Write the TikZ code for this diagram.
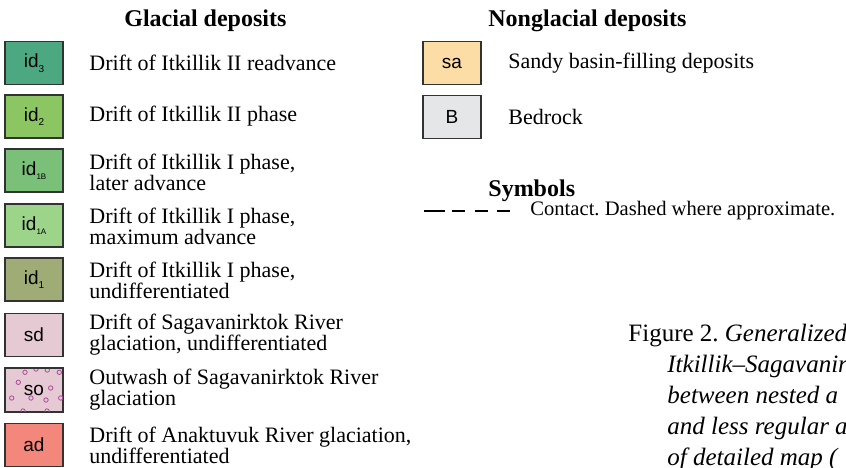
\documentclass[tikz,border=0pt]{standalone}
\usepackage{fontspec}
\setmainfont{Liberation Serif}
\setsansfont{Liberation Sans}
\frenchspacing
\definecolor{idthree}{RGB}{75,168,128}
\definecolor{idtwo}{RGB}{140,198,98}
\definecolor{idoneB}{RGB}{122,192,120}
\definecolor{idoneA}{RGB}{156,212,138}
\definecolor{idone}{RGB}{160,172,118}
\definecolor{sdcol}{RGB}{229,202,211}
\definecolor{adcol}{RGB}{243,135,124}
\definecolor{sacol}{RGB}{253,221,166}
\definecolor{bcol}{RGB}{229,230,232}
\definecolor{circcol}{RGB}{176,72,158}
\definecolor{edge}{RGB}{50,50,50}
\newcommand\sbs[1]{\raisebox{-0.45ex}{\fontsize{5pt}{5pt}\selectfont #1}}
\newcommand\sbss[1]{\raisebox{-0.45ex}{\fontsize{4pt}{4pt}\selectfont #1}}
\begin{document}
\begin{tikzpicture}[x=0.5pt,y=-0.5pt,
  lbox/.style={draw=edge,line width=0.6pt,minimum width=29pt,minimum height=21.5pt,inner sep=0pt,
    font=\sffamily\fontsize{9.5pt}{10pt}\selectfont},
  desc/.style={anchor=west,inner sep=0pt,align=left,font=\fontsize{11pt}{10.5pt}\selectfont},
  head/.style={anchor=base west,inner sep=0pt,font=\bfseries\fontsize{12pt}{13pt}\selectfont},
  capline/.style={anchor=base west,inner sep=0pt,font=\fontsize{12.5pt}{15pt}\selectfont},
  circ/.style={draw=circcol,line width=0.4pt}]
\useasboundingbox (0,0) rectangle (846,467);
\clip (0,0) rectangle (846,467);
% headings
\node[head] (hg) at (124,26) {Glacial deposits};
\node[head] (hn) at (488,26) {Nonglacial deposits};
\node[head] (hs) at (488,196) {Symbols};
% glacial boxes
\node[lbox,fill=idthree] (b1) at (34,63) {id\sbs{3}};
\node[lbox,fill=idtwo] (b2) at (34,116.5) {id\sbs{2}};
\node[lbox,fill=idoneB] (b3) at (34,170.5) {id\sbss{1B}};
\node[lbox,fill=idoneA] (b4) at (34,225.5) {id\sbss{1A}};
\node[lbox,fill=idone] (b5) at (34,279.5) {id\sbs{1}};
\node[lbox,fill=sdcol] (b6) at (34,335) {sd};
\node[lbox,fill=sdcol] (b7) at (34,390) {};
\begin{scope}
\clip (5,368) rectangle (63,412);
\foreach \cx/\cy in {25/372.3,36/369,47.3/370,59.3/372.3,18.3/382.3,50.7/388,11.7/398,31/398,46/400,60.7/398,23/411,47/411}
  \draw[circ] (\cx,\cy) circle (1.1pt);
\end{scope}
\draw[draw=edge,line width=0.6pt] (b7.north west) rectangle (b7.south east);
\node[inner sep=0pt,font=\sffamily\fontsize{9.5pt}{10pt}\selectfont] (so) at (b7) {so};
\node[lbox,fill=adcol] (b8) at (34,445) {ad};
% glacial texts
\node[desc] (t1) at (89,63) {Drift of Itkillik II readvance};
\node[desc] (t2) at (89,116.5) {Drift of Itkillik II phase};
\node[desc] (t3) at (89,172) {Drift of Itkillik I phase,\\later advance};
\node[desc] (t4) at (89,226) {Drift of Itkillik I phase,\\maximum advance};
\node[desc] (t5) at (89,280) {Drift of Itkillik I phase,\\undifferentiated};
\node[desc] (t6) at (89,335) {Drift of Sagavanirktok River\\glaciation, undifferentiated};
\node[desc] (t7) at (89,390) {Outwash of Sagavanirktok River\\glaciation};
\node[desc] (t8) at (89,445) {Drift of Anaktuvuk River glaciation,\\undifferentiated};
% nonglacial
\node[lbox,fill=sacol] (bsa) at (452,63) {sa};
\node[lbox,fill=bcol] (bb) at (452,117) {B};
\node[desc] (tsa) at (508,63) {Sandy basin-filling deposits};
\node[desc] (tb) at (508,117) {Bedrock};
% symbols
\coordinate (s0) at (424,211);
\coordinate (s1) at (445,211);
\coordinate (d0) at (452,211);
\coordinate (d1) at (510,211);
\draw[line width=0.8pt] (s0) -- (s1);
\draw[line width=0.8pt,dash pattern=on 6.5pt off 4.75pt] (d0) -- (d1);
\node[anchor=base west,inner sep=0pt,font=\fontsize{10.3pt}{12pt}\selectfont] (tc) at (530,215) {Contact. Dashed where approximate.};
% caption
\node[capline] (c1) at (628,341) {Figure 2. \textit{Generalized}};
\node[capline] (c2) at (667,372) {\textit{Itkillik–Sagavanir}};
\node[capline] (c3) at (667,403) {\textit{between nested a}};
\node[capline] (c4) at (667,434) {\textit{and less regular a}};
\node[capline] (c5) at (667,465) {\textit{of detailed map (}};
\end{tikzpicture}
\end{document}
